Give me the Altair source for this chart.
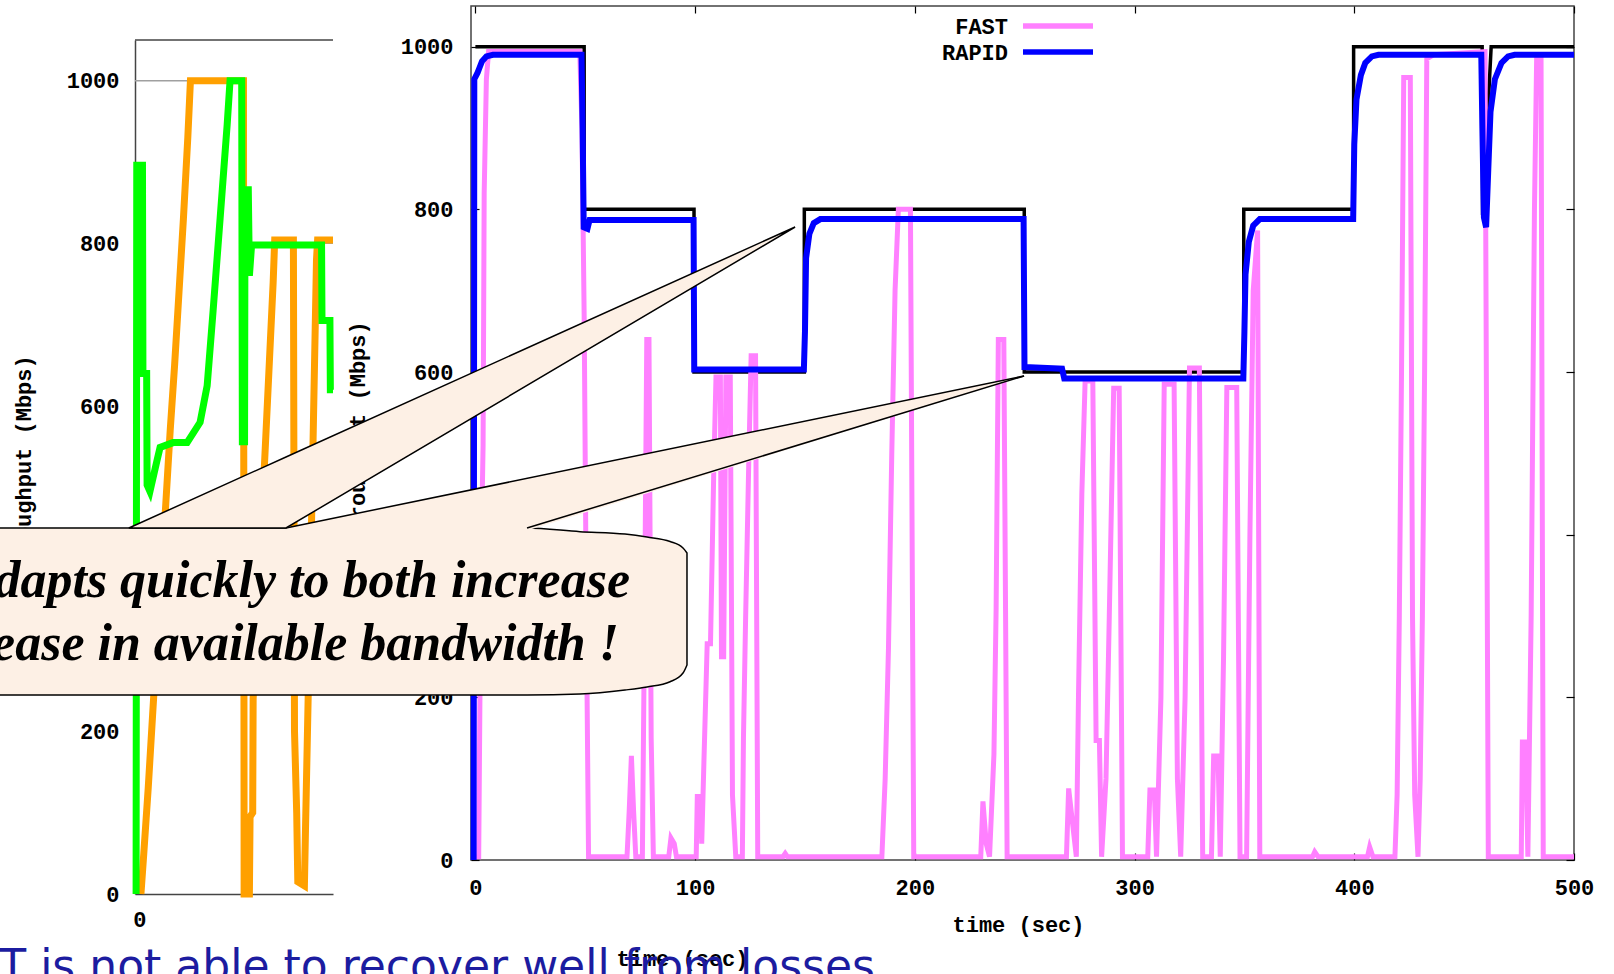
import altair as alt
import pandas as pd

# ---------------- right panel: time (s) / throughput (Mbps) ----------------
BW_T = [0, 49.5, 49.5, 99.5, 99.5, 149.7, 149.7, 249.8, 249.8, 349.7, 349.7, 399.7, 399.7, 458.2, 458.4, 462.3, 500]
BW_V = [1000, 1000, 800, 800, 600, 600, 800, 800, 600, 600, 800, 800, 1000, 1000, 793, 1000, 1000]

RAPID_T = [-0.8, -0.5, 1, 2, 3, 5, 8, 48.3, 48.8, 49.3, 51, 52, 99.3, 99.6, 149.5, 150, 150.5, 152, 154, 157,
           249.5, 249.9, 267, 268, 349.5, 350, 350.5, 352, 354, 357, 399.5, 400, 401, 403, 405, 408, 411,
           457.8, 458.3, 459, 460, 461, 462, 464, 467, 470, 473, 500]
RAPID_V = [0, 960, 968, 975, 982, 988, 990, 990, 900, 778, 776, 787, 787, 603, 603, 650, 740, 770, 783, 788,
           788, 606, 604, 592, 592, 650, 720, 760, 780, 788, 788, 880, 935, 965, 980, 988, 990,
           990, 900, 790, 778, 850, 920, 960, 980, 988, 990, 990]

FAST_T = [0, 1.5, 2.5, 3.5, 4, 5, 6, 47.5, 48.5, 49.5, 50.5, 51.5,
          69, 70, 71, 72, 73, 76, 77, 78, 79, 80, 81, 88, 89, 90.5, 91.5,
          100.5, 101, 102.5, 103, 104, 105.5, 107, 108.5, 109.5, 111.5, 112, 113, 114, 116, 117, 118.5,
          121.5, 122, 123, 124.5, 125.5, 127.5, 128.5, 140, 141, 142,
          185, 186.5, 188, 189.5, 191, 192.5, 198, 199.5,
          230, 231, 232.5, 234, 236, 237, 238, 240.5, 242,
          269, 270, 272, 273.5, 274.5, 276, 277.5, 281, 282.5, 284, 285, 287, 288.5, 290.5, 293, 294.5,
          306, 307, 309, 310, 312, 313.5, 318, 319.5, 321, 323, 325, 329.5, 331,
          335, 336, 338, 339, 340.5, 342, 346.5, 348, 351, 352.5, 354, 356, 357,
          381, 382, 383.5, 406, 407, 408.5,
          418.5, 419.5, 420.5, 421.5, 422.5, 425.5, 426.5, 427.5, 429, 430, 431, 432, 433, 436, 459.5, 461,
          476, 476.5, 478, 479, 480.5, 482, 483, 485, 486, 500]
FAST_V = [4, 4, 350, 510, 820, 960, 994, 994, 900, 670, 300, 4,
          4, 60, 128, 60, 4, 4, 300, 640, 640, 150, 4, 4, 27, 20, 4,
          4, 78, 78, 20, 120, 266, 266, 480, 594, 594, 250, 250, 594, 594, 80, 4,
          4, 150, 300, 500, 620, 620, 4, 4, 8, 4,
          4, 100, 260, 500, 700, 800, 800, 4,
          4, 72, 20, 4, 130, 310, 640, 640, 4,
          4, 88, 40, 4, 205, 450, 589, 589, 147, 147, 4, 100, 300, 580, 580, 4,
          4, 86, 86, 4, 200, 585, 585, 100, 4, 200, 605, 605, 4,
          4, 128, 128, 4, 250, 581, 581, 4, 4, 400, 700, 774, 4,
          4, 10, 4, 4, 16, 4,
          4, 80, 300, 600, 962, 962, 300, 80, 4, 100, 300, 600, 985, 990, 994, 4,
          4, 145, 145, 4, 300, 800, 985, 985, 4, 4]

# ---------------- left (cropped) panel ----------------
CAP_T = [-2, 47.5, 47.5, 88]
CAP_V = [1000, 1000, 800, 800]

ORANGE_T = [0.7, 2, 4, 6, 8, 10, 12, 14, 16, 18, 20, 22, 23.2, 47.3, 47.6, 50, 50.3, 51.5, 51.7, 56, 60.8,
            61.5, 70, 70.5, 71.5, 72, 75, 75.5, 77, 80.5, 81, 88]
ORANGE_V = [0, 50, 130, 220, 310, 390, 480, 570, 650, 740, 830, 930, 1000, 1000, 0, 0, 95, 100, 240, 480, 752,
            804, 804, 200, 100, 15, 10, 80, 280, 780, 804, 804]

GREEN_T = [-1.5, -1.2, 1.4, 1.6, 3.3, 3.5, 4.8, 8, 9.4, 15.3, 21.7, 27.6, 30.8, 33.5, 36.7, 39.9, 41.2,
           46.5, 46.8, 47.8, 48, 49.5, 50, 51, 82.8, 83, 86.6, 86.8, 88]
GREEN_V = [0, 896, 896, 640, 640, 503, 495, 533, 549, 555, 555, 580, 625, 717, 831, 946, 1000,
           1000, 556, 556, 866, 866, 760, 798, 798, 705, 705, 620, 620]

# ---------------- ticks / labels ----------------
X_TICKS = [0, 100, 200, 300, 400, 500]
Y_TICKS = [0, 200, 400, 600, 800, 1000]
LEFT_X_TICKS = [0]
SERIES = ["FAST", "RAPID"]

# ---------------- callout (in the right panel's data units) ----------------
BOX_T = [-239.1, 23.5, 47.6, 68.1, 78.1, 88.6, 94.5, 96.3]
BOX_TOP = [408.2, 408.2, 403.7, 400.8, 397.1, 391.6, 383.6, 377.5]
BOX_BOTTOM = [202.9, 202.9, 204.1, 209.0, 212.7, 219.2, 229.9, 239.8]
PTR1_T = [-157.7, -86.2, 145.5]
PTR1_TOP = [408.2, 495.5, 778.3]
PTR1_BOTTOM = [408.2, 408.2, 778.3]
PTR2_T = [-86.2, 23.5, 249.7]
PTR2_TOP = [408.2, 469.2, 595.1]
PTR2_BOTTOM = [405.0, 405.0, 595.1]
CALLOUT_LINES = ["adapts quickly to both increase", "decrease in available bandwidth !"]
BOTTOM_TEXT = "FAST is not able to recover well from losses"

# ---------------- styles ----------------
MONO = "Liberation Mono"
PINK, BLUE, BLACK = "#FF80FF", "#0000FF", "#000000"
ORANGE, GREEN, GRAY = "#FFA000", "#00FF00", "#A0A0A0"
CALLOUT_FILL = "#FDF0E5"
FRAME = "#444444"

W, H = 1103, 854

xr = alt.Scale(domain=[-2, 500], nice=False, zero=False)
yr = alt.Scale(domain=[0, 1050], nice=False, zero=False)
xl = alt.Scale(domain=[-2, 88], range=[-336, -138], nice=False, zero=False)
yl = alt.Scale(domain=[0, 1050], range=[888, 34], nice=False, zero=False)

lab = dict(labelFont=MONO, labelFontSize=22, labelFontWeight="bold", labelColor="black",
           titleFont=MONO, titleFontSize=22, titleFontWeight="bold", titleColor="black",
           labelFlush=False, labelOverlap=False, grid=False, format="d")


def df_line(t, v):
    return pd.DataFrame({"t": t, "v": v, "i": list(range(len(t)))})


def line(t, v, color, width, sx, sy, xaxis=None, yaxis=None):
    return alt.Chart(df_line(t, v)).mark_line(color=color, strokeWidth=width).encode(
        x=alt.X("t:Q", scale=sx, axis=xaxis),
        y=alt.Y("v:Q", scale=sy, axis=yaxis),
        order=alt.Order("i:Q"),
    )


# ---- left panel ----
left_x_axis = alt.Axis(orient="bottom", offset=34, values=LEFT_X_TICKS, ticks=False, tickSize=0,
                       domain=True, domainColor=FRAME, domainWidth=1.5, labelPadding=25,
                       labelBaseline="middle", title="time (sec)", titleX=211, titleY=64,
                       titleBaseline="middle", titleAlign="center", **lab)
left_y_axis = alt.Axis(orient="left", offset=336, values=Y_TICKS, ticks=False, tickSize=0,
                       domain=True, domainColor=FRAME, domainWidth=1.5, labelPadding=16,
                       title="throughput (Mbps)", titleX=-112, titleY=461, titleAngle=270,
                       titleBaseline="middle", titleAlign="center", **lab)

left_cap = line(CAP_T, CAP_V, GRAY, 1.5, xl, yl, left_x_axis, left_y_axis)
left_orange = line(ORANGE_T, ORANGE_V, ORANGE, 7, xl, yl)
left_green = line(GREEN_T, GREEN_V, GREEN, 7, xl, yl)
left_top = alt.Chart(pd.DataFrame({"t": [CAP_T[0]], "t2": [CAP_T[-1]], "v": [1050]})).mark_rule(
    color=FRAME, strokeWidth=1.5).encode(
    x=alt.X("t:Q", scale=xl, axis=None), x2="t2:Q", y=alt.Y("v:Q", scale=yl, axis=None))

# ---- right panel ----
right_x_axis = alt.Axis(orient="bottom", values=X_TICKS, ticks=False, tickSize=0, domain=False,
                        labelPadding=27, labelBaseline="middle", title="time (sec)",
                        titleX=547, titleY=64, titleBaseline="middle", titleAlign="center", **lab)
right_y_axis = alt.Axis(orient="left", values=Y_TICKS, ticks=False, tickSize=0, domain=False,
                        labelPadding=18, title="throughput (Mbps)", titleX=-114, titleY=427,
                        titleAngle=270, titleBaseline="middle", titleAlign="center", **lab)

bw = line(BW_T, BW_V, BLACK, 3.5, xr, yr, right_x_axis, right_y_axis)
fast = line(FAST_T, FAST_V, PINK, 5, xr, yr)
rapid = line(RAPID_T, RAPID_V, BLUE, 6, xr, yr)

# legend (gnuplot style: label left of sample)
legend_layers = []
for name, color, ypx in zip(SERIES, [PINK, BLUE], [21, 47]):
    d = pd.DataFrame({"name": [name]})
    legend_layers.append(alt.Chart(d).mark_text(font=MONO, fontSize=22, fontWeight="bold", align="right",
                                                baseline="middle", color="black").encode(
        x=alt.value(537), y=alt.value(ypx), text="name:N"))
    legend_layers.append(alt.Chart(d).mark_rule(color=color, strokeWidth=5.5).encode(
        x=alt.value(552), x2=alt.value(622), y=alt.value(ypx - 1)))


def area(t, top, bottom, **kw):
    d = pd.DataFrame({"t": t, "top": top, "bottom": bottom})
    return alt.Chart(d).mark_area(**kw).encode(
        x=alt.X("t:Q", scale=xr, axis=None), y=alt.Y("top:Q", scale=yr, axis=None), y2="bottom:Q")


box = area(BOX_T, BOX_TOP, BOX_BOTTOM, fill=CALLOUT_FILL, stroke="black", strokeWidth=1.5,
           interpolate="monotone")
ptr2_fill = area(PTR2_T, PTR2_TOP, PTR2_BOTTOM, fill=CALLOUT_FILL, strokeWidth=0)
ptr2_edges_df = pd.DataFrame({
    "t": [PTR2_T[0], PTR2_T[2], PTR2_T[1], PTR2_T[2]],
    "v": [PTR2_TOP[0], PTR2_TOP[2], BOX_TOP[1], PTR2_TOP[2]],
    "edge": ["a", "a", "b", "b"],
    "i": [0, 1, 2, 3],
})
ptr2_edges = alt.Chart(ptr2_edges_df).mark_line(color="black", strokeWidth=1.5).encode(
    x=alt.X("t:Q", scale=xr, axis=None), y=alt.Y("v:Q", scale=yr, axis=None),
    detail="edge:N", order=alt.Order("i:Q"))
ptr1 = area(PTR1_T, PTR1_TOP, PTR1_BOTTOM, fill=CALLOUT_FILL, stroke="black", strokeWidth=1.5)

callout_text = []
for txt, xpx, ypx in zip(CALLOUT_LINES, [159, 148], [591, 654]):
    callout_text.append(alt.Chart(pd.DataFrame({"s": [txt]})).mark_text(
        font="Liberation Serif", fontSize=52, fontStyle="italic", fontWeight="bold",
        align="right", baseline="alphabetic", color="black").encode(
        x=alt.value(xpx), y=alt.value(ypx), text="s:N"))

bottom_text = alt.Chart(pd.DataFrame({"s": [BOTTOM_TEXT]})).mark_text(
    font="DejaVu Sans", fontSize=44, align="right", baseline="alphabetic", color="#1C1CA0").encode(
    x=alt.value(404), y=alt.value(975), text="s:N")

# ---- inward ticks on the right panel frame ----
frame_df = pd.DataFrame({"t": [-2, 500], "v": [0, 1050]})
tick_style = dict(labels=False, domain=False, grid=False, title=None, tickColor="black", tickWidth=1.2)
ticks_a = alt.Chart(frame_df).mark_point(opacity=0).encode(
    x=alt.X("t:Q", scale=xr, axis=alt.Axis(orient="top", offset=-7, tickSize=7, values=X_TICKS, **tick_style)),
    y=alt.Y("v:Q", scale=yr, axis=alt.Axis(orient="right", offset=-8, tickSize=8, values=Y_TICKS, **tick_style)))
ticks_b = alt.Chart(frame_df).mark_point(opacity=0).encode(
    x=alt.X("t:Q", scale=xr, axis=alt.Axis(orient="bottom", offset=-7, tickSize=7, values=X_TICKS, **tick_style)),
    y=alt.Y("v:Q", scale=yr, axis=alt.Axis(orient="left", offset=-8, tickSize=8, values=Y_TICKS, **tick_style)))

chart = alt.layer(
    left_cap, left_orange, left_green, left_top,
    bw, fast, rapid, *legend_layers,
    ticks_a, ticks_b,
    box, ptr2_fill, ptr2_edges, ptr1, *callout_text, bottom_text,
).resolve_scale(
    x="independent", y="independent"
).properties(
    width=W, height=H,
    padding={"left": 471, "top": 6, "right": 40, "bottom": 114},
    autosize=alt.AutoSizeParams(type="none"),
    background="white",
).configure_view(stroke=FRAME, strokeWidth=1.5)

chart.save("out.html", embed_options={"renderer": "svg", "actions": False})
